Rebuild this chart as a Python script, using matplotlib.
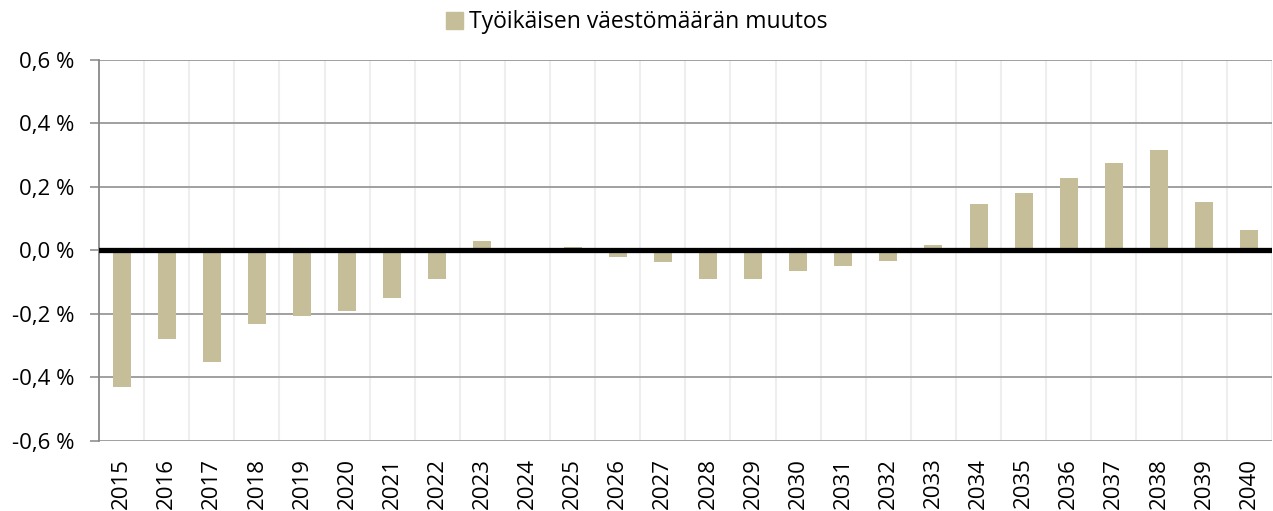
import numpy as np
import matplotlib.pyplot as plt
from matplotlib.patches import Patch

# Data
years = [str(y) for y in range(2015, 2041)]
change = [-0.43, -0.28, -0.35, -0.23, -0.205, -0.19, -0.15, -0.09, 0.03, 0.0,
          0.01, -0.02, -0.035, -0.09, -0.09, -0.065, -0.05, -0.033, 0.018, 0.145,
          0.18, 0.229, 0.274, 0.318, 0.154, 0.064]
yticks = [-0.6, -0.4, -0.2, 0.0, 0.2, 0.4, 0.6]
series_name = "Työikäisen väestömäärän muutos"

plt.rcParams['font.family'] = ['Open Sans', 'DejaVu Sans']
bar_color = "#c6be98"

fig = plt.figure(figsize=(12.73, 5.11), dpi=100)
ax = fig.add_axes([0.0778, 0.137, 0.9212, 0.7456])

x = np.arange(len(years))
ax.bar(x, change, width=0.4, color=bar_color, zorder=3)

ax.set_xlim(-0.5, len(years) - 0.5)
ax.set_ylim(-0.6, 0.6)
ax.set_yticks(yticks)
ax.set_yticklabels([f"{v:.1f} %".replace(".", ",") for v in yticks], fontsize=16)
ax.set_xticks(x)
ax.set_xticklabels(years, rotation=90, fontsize=16, va="top")

# horizontal grid
ax.grid(axis="y", color="#999999", linewidth=1.3, zorder=1)
# light vertical separators between categories
for b in np.arange(-0.5, len(years), 1.0)[1:]:
    ax.axvline(b, color="#eeeeee", linewidth=1.5, zorder=1)
ax.axhline(0, color="black", linewidth=3.8, zorder=4)

for side in ["top", "right", "bottom"]:
    ax.spines[side].set_visible(False)
ax.spines["left"].set_color("#888888")
ax.spines["left"].set_linewidth(1.3)
ax.tick_params(axis="y", length=6.5, color="#999999", width=1.3, pad=11)
ax.tick_params(axis="x", length=0, pad=12)

fig.legend(handles=[Patch(color=bar_color, label=series_name)], loc="upper center",
           bbox_to_anchor=(0.5, 1.02), frameon=False, fontsize=16.5,
           handlelength=0.75, handleheight=0.75, handletextpad=0.25)

fig.savefig("out.png", dpi=100)
